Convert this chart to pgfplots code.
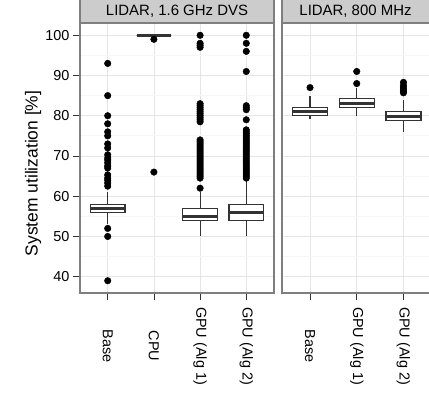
\documentclass[border=0pt]{standalone}
\usepackage{fontspec}
\setmainfont{Liberation Sans}
\usepackage{pgfplots}
\pgfplotsset{compat=1.18}
\usepgfplotslibrary{statistics}
\definecolor{gridmaj}{HTML}{E5E5E5}
\definecolor{gridmin}{HTML}{F7F7F7}
\definecolor{bordercol}{HTML}{7F7F7F}
\definecolor{stripbg}{HTML}{CCCCCC}
\definecolor{boxline}{HTML}{333333}
\newcommand{\tickfont}{\fontsize{14.5}{17}\selectfont}
\pgfplotsset{
  facet/.style={
    scale only axis, height=270bp, anchor=north west,
    ymin=35.95, ymax=103.05,
    ytick={40,50,...,100}, minor ytick={45,55,...,95},
    ymajorgrids, yminorgrids, xmajorgrids,
    major grid style={gridmaj, line width=0.8bp},
    minor grid style={gridmin, line width=0.8bp},
    axis line style={bordercol, line width=1.1bp},
    major tick style={boxline, line width=0.8bp},
    major tick length=7bp, minor tick length=0pt, tick align=outside,
    xtick pos=bottom, ytick pos=left,
    xticklabel style={rotate=-90, anchor=center, font=\tickfont},
    xticklabel shift=46bp,
    yticklabel style={font=\tickfont},
    /pgf/number format/assume math mode=true,
    boxplot/draw direction=y, boxplot/box extend=0.75, boxplot/whisker extend=0,
    boxplot/every box/.style={draw=boxline, fill=white, line width=1.1bp},
    boxplot/every whisker/.style={draw=boxline, line width=1.1bp},
    boxplot/every median/.style={draw=boxline, line width=2.6bp},
  },
  outl/.style={only marks, mark=*, mark size=3.3bp, black},
}
\begin{document}
\begin{tikzpicture}
\useasboundingbox (0,0) rectangle (429bp,393bp);
% left panel
\begin{axis}[facet, at={(80bp,370bp)}, width=194bp,
  xmin=0.4, xmax=4.6, xtick={1,2,3,4},
  xticklabels={Base, CPU, GPU (Alg 1), GPU (Alg 2)}]
\addplot[boxplot prepared={draw position=1, lower whisker=53, lower quartile=56,
  median=57, upper quartile=58, upper whisker=61}] coordinates {};
\addplot[boxplot prepared={draw position=2, lower whisker=100, lower quartile=100,
  median=100, upper quartile=100, upper whisker=100}] coordinates {};
\addplot[boxplot prepared={draw position=3, lower whisker=50, lower quartile=54,
  median=55, upper quartile=57, upper whisker=61}] coordinates {};
\addplot[boxplot prepared={draw position=4, lower whisker=50, lower quartile=54,
  median=56, upper quartile=58, upper whisker=64}] coordinates {};
% outliers
\addplot[outl] coordinates {(1,93) (1,85) (1,80) (1,78) (1,76) (1,75) (1,73) (1,72)
  (1,70.3) (1,69.5) (1,69) (1,68.3) (1,67.5) (1,67) (1,65.3) (1,64.5) (1,64) (1,63.3) (1,62.5)
  (1,52) (1,50) (1,39)};
\addplot[outl] coordinates {(2,99) (2,66)};
\addplot[outl] coordinates {(3,100) (3,98) (3,97.5) (3,97) (3,83) (3,82.5) (3,82) (3,81.5)
  (3,81) (3,80.5) (3,80) (3,79.5) (3,79) (3,78.5) (3,74) (3,73.5) (3,73) (3,72.5) (3,72)
  (3,71.5) (3,71) (3,70.5) (3,70) (3,69.5) (3,69) (3,68.5) (3,68) (3,67.5) (3,67) (3,66.5)
  (3,66) (3,65.5) (3,65) (3,64.5) (3,62)};
\addplot[outl] coordinates {(4,100) (4,98) (4,96) (4,91) (4,82.5) (4,82) (4,81.5) (4,79)
  (4,76.5) (4,76) (4,75.5) (4,75) (4,74.5) (4,74) (4,73.5) (4,73) (4,72.5) (4,72) (4,71.5)
  (4,71) (4,70.5) (4,70) (4,69.5) (4,69) (4,68.5) (4,68) (4,67.5) (4,67) (4,66.5) (4,66)
  (4,65.5) (4,65) (4,64.5)};
\end{axis}
% right panel
\begin{axis}[facet, at={(282bp,370bp)}, width=149.5bp,
  xmin=0.4, xmax=3.6, xtick={1,2,3},
  xticklabels={Base, GPU (Alg 1), GPU (Alg 2)},
  yticklabels={}, ytick style={draw=none}]
\addplot[boxplot prepared={draw position=1, lower whisker=79.3, lower quartile=80,
  median=81, upper quartile=82, upper whisker=85}] coordinates {};
\addplot[boxplot prepared={draw position=2, lower whisker=80, lower quartile=82,
  median=83, upper quartile=84.2, upper whisker=86.8}] coordinates {};
\addplot[boxplot prepared={draw position=3, lower whisker=76, lower quartile=78.8,
  median=79.8, upper quartile=81, upper whisker=84}] coordinates {};
\addplot[outl] coordinates {(1,87)};
\addplot[outl] coordinates {(2,88) (2,91)};
\addplot[outl] coordinates {(3,85.7) (3,86) (3,86.5) (3,87) (3,87.5) (3,88.3)};
\end{axis}
% strips
\draw[bordercol, fill=stripbg, line width=1.1bp] (80bp,370bp) rectangle (274bp,394bp);
\draw[bordercol, fill=stripbg, line width=1.1bp] (282bp,370bp) rectangle (432bp,394bp);
\node[font=\fontsize{15}{18}\selectfont, inner sep=0pt] at (177bp,381.5bp) {LIDAR, 1.6 GHz DVS};
\node[font=\fontsize{15}{18}\selectfont, inner sep=0pt] at (355.5bp,381.5bp) {LIDAR, 800 MHz};
% y label
\node[font=\fontsize{17.5}{20}\selectfont, rotate=90, inner sep=0pt] at (33bp,219.5bp) {System utilization [\%]};
\end{tikzpicture}
\end{document}
